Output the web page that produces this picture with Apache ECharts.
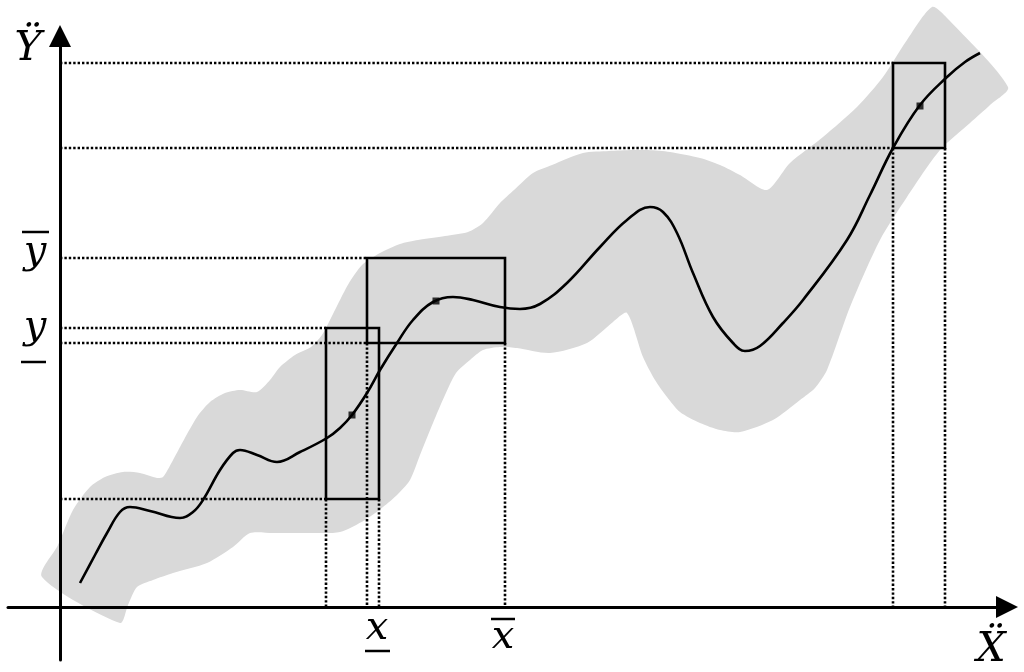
<!DOCTYPE html>
<html>
<head>
<meta charset="utf-8">
<script src="https://cdn.jsdelivr.net/npm/echarts@6/dist/echarts.min.js"></script>
<style>
html,body{margin:0;padding:0;background:#fff;}
#chart{width:1024px;height:672px;}
</style>
</head>
<body>
<div id="chart"></div>
<script>
// ---- data (arbitrary units, origin at the axes' crossing) ----
const curveX = [20,35,47,60,70,90,120,133,143,160,173,180,197,217,240,267,280,292,307,320,337,353,373,393,413,440,460,480,507,540,567,590,603,617,633,653,673,685,700,723,743,787,810,833,860,887,905,920];
const curveY = [24,52,74,95,100,96,89,95,107,137,154,157,152,145,155,169,179,192,214,237,264,287,305,310,307,300,298,303,324,360,387,400,395,374,334,290,264,256,261,284,307,367,412,459,502,530,545,554];

const pointX = [292,376,860];
const pointY = [192,306,501];

// rectangles: [xLeft, xRight, yBottom, yTop]
const rectXLeft  = [266,307,833];
const rectXRight = [319,445,885];
const rectYBottom= [108,264,459];
const rectYTop   = [279,349,544];

// grey band outline
const bandX = [-18,-2,13,30,45,63,80,97,103,112,120,137,150,165,180,197,210,220,235,251,262,270,280,289,302,320,340,358,385,408,423,440,454,473,492,523,549,573,588,610,640,660,680,707,730,763,797,823,847,872,887,948,
  930,910,880,847,820,790,767,755,740,713,680,660,640,620,607,595,583,567,553,527,490,457,440,423,410,396,385,373,360,350,337,323,305,280,250,213,190,173,147,113,93,77,68,60];
const bandY = [30,62,97,120,130,135,134,129,130,145,160,190,205,214,217,215,227,240,252,260,272,287,307,324,342,354,363,367,371,375,384,404,417,434,442,454,456,457,457,455,449,442,432,417,444,470,500,530,567,600,589,520,
  502,484,457,410,367,300,237,219,207,187,175,177,184,195,210,227,250,294,285,264,254,259,260,257,247,234,212,184,152,127,112,100,87,75,74,74,74,60,44,34,27,20,2,-16];

const xAxisName = 'Ẍ';
const yAxisName = 'Ÿ';

// ---- derived series data ----
const curveData = curveX.map((x,i)=>[x,curveY[i]]);
const pointData = pointX.map((x,i)=>[x,pointY[i]]);
const rectData = rectXLeft.map((x,i)=>[x,rectXRight[i],rectYBottom[i],rectYTop[i]]);
const dotLines = [];
rectXLeft.forEach((xl,i)=>{
  dotLines.push([0,rectYTop[i],xl,rectYTop[i]]);
  dotLines.push([0,rectYBottom[i],xl,rectYBottom[i]]);
  dotLines.push([xl,rectYBottom[i],xl,0]);
  dotLines.push([rectXRight[i],rectYBottom[i],rectXRight[i],0]);
});

const chart = echarts.init(document.getElementById('chart'));
const serif = '"DejaVu Serif","Liberation Serif",serif';
const txt = (t,x,y,size)=>({type:'text',x:x,y:y,z:100,style:{text:t,font:'italic '+size+'px '+serif,fill:'#000',textAlign:'center',textVerticalAlign:'middle'}});
const bar = (x1,x2,y)=>({type:'line',z:100,shape:{x1:x1,y1:y,x2:x2,y2:y},style:{stroke:'#000',lineWidth:2.5}});

chart.setOption({
  animation:false,
  backgroundColor:'#fff',
  grid:{left:8,right:17,top:36,bottom:12,containLabel:false},
  xAxis:{type:'value',min:-52,max:947,z:10,
    axisLine:{onZero:true,lineStyle:{color:'#000',width:3},symbol:['none','triangle'],symbolSize:[22,22]},
    axisTick:{show:false},axisLabel:{show:false},splitLine:{show:false}},
  yAxis:{type:'value',min:-53,max:571,z:10,
    axisLine:{onZero:true,lineStyle:{color:'#000',width:3},symbol:['none','triangle'],symbolSize:[22,22]},
    axisTick:{show:false},axisLabel:{show:false},splitLine:{show:false}},
  series:[
    {type:'custom',silent:true,z:1,data:[[0,0]],
     renderItem:function(params,api){
       const pts = bandX.map((x,i)=>api.coord([x,bandY[i]]));
       return {type:'polygon',shape:{points:pts,smooth:0.25},style:{fill:'#d9d9d9',stroke:null}};
     }},
    {type:'line',z:3,data:curveData,smooth:0.4,symbol:'none',lineStyle:{color:'#000',width:2.6}},
    {type:'custom',z:4,data:dotLines,
     renderItem:function(params,api){
       const a = api.coord([api.value(0),api.value(1)]);
       const b = api.coord([api.value(2),api.value(3)]);
       return {type:'line',shape:{x1:a[0],y1:a[1],x2:b[0],y2:b[1]},style:{stroke:'#000',lineWidth:2.6,lineDash:[2.4,2]}};
     }},
    {type:'custom',z:5,data:rectData,
     renderItem:function(params,api){
       const a = api.coord([api.value(0),api.value(3)]);
       const b = api.coord([api.value(1),api.value(2)]);
       return {type:'rect',shape:{x:a[0],y:a[1],width:b[0]-a[0],height:b[1]-a[1]},style:{stroke:'#000',lineWidth:2.6,fill:null}};
     }},
    {type:'scatter',z:6,data:pointData,symbol:'rect',symbolSize:7,itemStyle:{color:'#000'}}
  ],
  graphic:[
    txt(yAxisName,28,49,41),
    txt(xAxisName,991,650,41),
    txt('y',35,253,40), bar(22,49,232),
    txt('y',35,328,40), bar(21,46,362),
    txt('x',377,629,40), bar(365,390,651),
    txt('x',503,638,40), bar(491,515,619)
  ]
});
</script>
</body>
</html>
